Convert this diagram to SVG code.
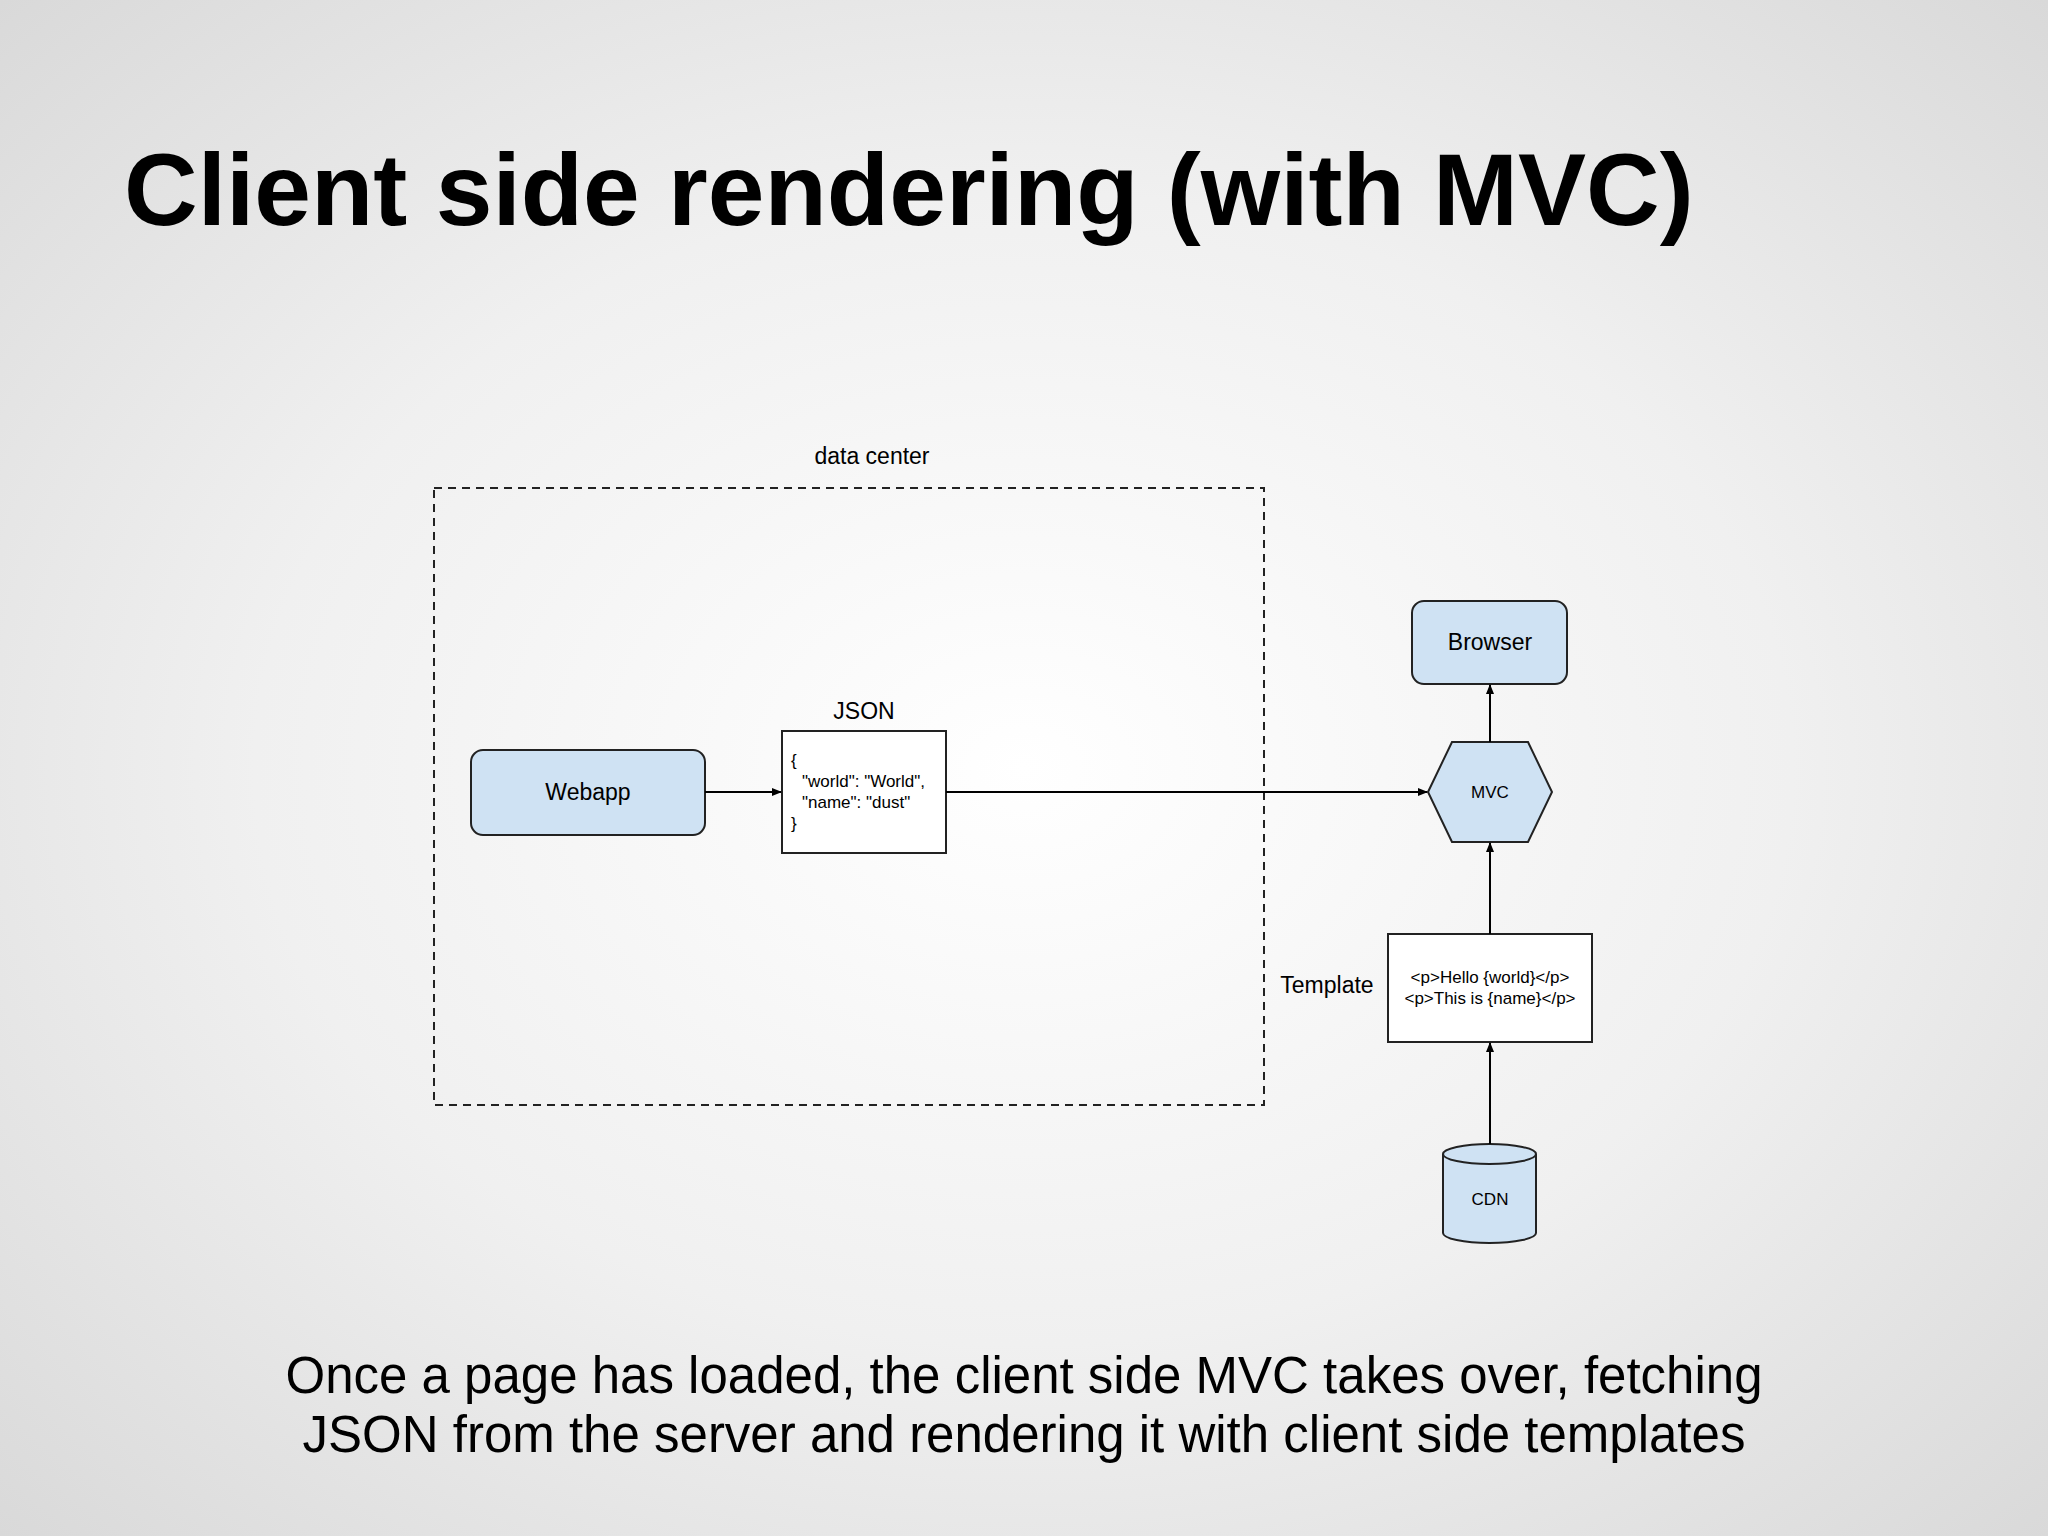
<svg xmlns="http://www.w3.org/2000/svg" width="2048" height="1536" viewBox="0 0 2048 1536">
<defs>
<radialGradient id="bg" cx="50%" cy="50%" r="75%">
<stop offset="0" stop-color="#ffffff"/><stop offset="0.5" stop-color="#f0f0f0"/><stop offset="1" stop-color="#d6d6d6"/>
</radialGradient>
<marker id="ah" markerWidth="10" markerHeight="10" refX="9" refY="5" orient="auto" markerUnits="userSpaceOnUse"><path d="M0,1 L10,5 L0,9 z" fill="#000"/></marker>
<style>
text{font-family:"Liberation Sans",Arial,sans-serif;fill:#000}
.node{fill:#cfe2f3;stroke:#222;stroke-width:2}
.box{fill:#fff;stroke:#222;stroke-width:2}
.lbl{font-size:23px;text-anchor:middle}
.sm{font-size:17px}
.conn{stroke:#000;stroke-width:2;fill:none;marker-end:url(#ah)}
</style>
</defs>
<rect width="2048" height="1536" fill="url(#bg)"/>
<text x="124" y="225" font-size="102" font-weight="bold">Client side rendering (with MVC)</text>
<g id="datacenter">
<rect x="434" y="488" width="830" height="617" fill="none" stroke="#222" stroke-width="2" stroke-dasharray="8,6"/>
<text x="872" y="464" class="lbl" font-size="22">data center</text>
</g>
<g id="webapp"><rect class="node" x="471" y="750" width="234" height="85" rx="12"/><text class="lbl" x="588" y="800">Webapp</text></g>
<g id="json"><rect class="box" x="782" y="731" width="164" height="122"/>
<text class="lbl" x="864" y="719">JSON</text>
<text class="sm" x="791" y="766">{</text>
<text class="sm" x="802" y="787">"world": "World",</text>
<text class="sm" x="802" y="808">"name": "dust"</text>
<text class="sm" x="791" y="829">}</text></g>
<g id="mvc"><polygon class="node" points="1428,792 1452,742 1528,742 1552,792 1528,842 1452,842"/><text class="lbl sm" x="1490" y="798">MVC</text></g>
<g id="browser"><rect class="node" x="1412" y="601" width="155" height="83" rx="12"/><text class="lbl" x="1490" y="650">Browser</text></g>
<g id="template"><rect class="box" x="1388" y="934" width="204" height="108"/>
<text class="lbl" x="1327" y="993">Template</text>
<text class="sm" x="1490" y="983" text-anchor="middle">&lt;p&gt;Hello {world}&lt;/p&gt;</text>
<text class="sm" x="1490" y="1004" text-anchor="middle">&lt;p&gt;This is {name}&lt;/p&gt;</text></g>
<g id="cdn"><path class="node" d="M1443,1154 L1443,1233 A46.5,10 0 0 0 1536,1233 L1536,1154 A46.5,10 0 0 0 1443,1154 A46.5,10 0 0 0 1536,1154"/><text class="lbl sm" x="1490" y="1205">CDN</text></g>
<g id="connectors">
<line class="conn" x1="705" y1="792" x2="781" y2="792"/>
<line class="conn" x1="946" y1="792" x2="1427" y2="792"/>
<line class="conn" x1="1490" y1="742" x2="1490" y2="685"/>
<line class="conn" x1="1490" y1="934" x2="1490" y2="843"/>
<line class="conn" x1="1490" y1="1144" x2="1490" y2="1043"/>
</g>
<text x="1024" y="1393" font-size="51" text-anchor="middle">Once a page has loaded, the client side MVC takes over, fetching</text>
<text x="1024" y="1452" font-size="51" text-anchor="middle">JSON from the server and rendering it with client side templates</text>
</svg>
